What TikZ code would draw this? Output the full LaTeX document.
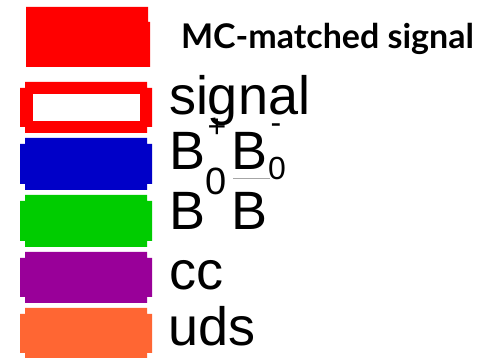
\documentclass[tikz,border=0pt]{standalone}
\usepackage{fontspec}
\newfontfamily\labfont{Liberation Sans}
\newfontfamily\latofont{Lato}
\definecolor{lgred}{RGB}{255,0,0}
\definecolor{lgblue}{RGB}{0,0,200}
\definecolor{lggreen}{RGB}{0,204,0}
\definecolor{lgpurple}{RGB}{153,0,153}
\definecolor{lgorange}{RGB}{255,102,51}
\newcommand\legbox[3]{\fill[#3] (25,#1) -- (147,#1) -- (147,{#1+6}) -- (152,{#1+6}) -- (152,{#2-6}) -- (147,{#2-6}) -- (147,#2) -- (25,#2) -- (25,{#2-6}) -- (20,{#2-6}) -- (20,{#1+6}) -- (25,{#1+6}) -- cycle;}
\begin{document}
\begin{tikzpicture}[x=1pt,y=-1pt,
  lab/.style={inner sep=0pt, outer sep=0pt, anchor=base west, font=\labfont\fontsize{54}{54}\selectfont},
  subl/.style={inner sep=0pt, outer sep=0pt, anchor=base west, font=\labfont\fontsize{#1}{#1}\selectfont},
  supl/.style={inner sep=0pt, outer sep=0pt, anchor=base, font=\labfont\fontsize{32}{32}\selectfont}]
\useasboundingbox (0,0) rectangle (499,358);
\fill[white] (0,0) rectangle (499,358);
% MC-matched box
\fill[lgred] (26,7) -- (148,7) -- (148,22) -- (150,22) -- (150,67) -- (26,67) -- cycle;
\node[inner sep=0pt, outer sep=0pt, anchor=base west, font=\latofont\bfseries\fontsize{34}{34}\selectfont] (mc) at (181,49) {MC-matched signal};
% legend boxes
\legbox{82}{133}{lgred}
\fill[white] (33,94) rectangle (140,121);
\legbox{138}{190}{lgblue}
\legbox{195}{247}{lggreen}
\legbox{252}{303}{lgpurple}
\legbox{308}{359}{lgorange}
% labels
\node[lab] (sig) at (169,115) {signal};
\node[lab] (b1) at (169,170) {B};
\node[subl=38] (z1) at (205,195) {0};
\node[lab] (b2) at (231,170) {B};
\node[subl=32] (z2) at (268,180) {0};
\node[lab] (b3) at (169,230) {B};
\node[lab] (b4) at (231,230) {B};
\node[supl] (plus) at (217,138) {+};
\node[supl] (minus) at (276,134) {-};
\draw[black!35, line width=1pt] (233,179) -- (270,179);
\node[lab] (cc) at (169,290) {cc};
\node[lab] (uds) at (168,346) {uds};
\end{tikzpicture}
\end{document}
